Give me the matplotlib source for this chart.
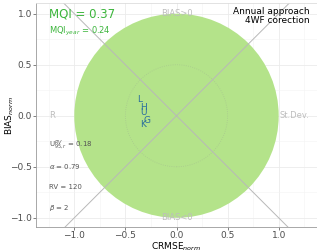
import numpy as np
import matplotlib.pyplot as plt
from matplotlib.patches import Circle

# station points (CRMSE_norm, BIAS_norm)
labels = ["L", "H", "U", "G", "K"]
crmse = [-0.36, -0.32, -0.32, -0.29, -0.33]
bias = [0.16, 0.08, 0.03, -0.05, -0.09]

mqi = 0.37
mqi_year = 0.24
u95 = 0.18
alpha = 0.79
rv = 120
beta = 2

fig = plt.figure(figsize=(3.17, 2.52), dpi=100)
ax = fig.add_axes([36 / 317, 25 / 252, 281 / 317, 224 / 252])

ax.set_xlim(-1.375, 1.375)
ax.set_ylim(-1.09, 1.105)

ax.set_xticks([-1.0, -0.5, 0.0, 0.5, 1.0])
ax.set_yticks([-1.0, -0.5, 0.0, 0.5, 1.0])
ax.set_xticks(np.arange(-1.25, 1.3, 0.5), minor=True)
ax.set_yticks(np.arange(-0.75, 1.0, 0.5), minor=True)
ax.set_axisbelow(True)
ax.grid(which="major", color="#EBEBEB", lw=0.6)
ax.grid(which="minor", color="#F3F3F3", lw=0.4)
ax.tick_params(which="major", labelsize=6.5, colors="#4D4D4D", length=2, width=0.5, pad=1)
ax.tick_params(which="minor", length=0)
ax.spines["right"].set_visible(False)
ax.spines["top"].set_color("#DDDDDD")
ax.spines["top"].set_linewidth(0.6)
for s in ["left", "bottom"]:
    ax.spines[s].set_color("#9A9A9A")
    ax.spines[s].set_linewidth(0.6)

ax.add_patch(Circle((0, 0), 1.0, color="#B4E38A", lw=0, zorder=1))
ax.add_patch(Circle((0, 0), 0.5, fill=False, ec="#A9C98E", lw=0.6, ls=":", zorder=2))

t = np.array([-2, 2])
ax.plot(t, t, color="#B8B8B8", lw=0.7, zorder=2)
ax.plot(t, -t, color="#B8B8B8", lw=0.7, zorder=2)

grey = "#BDBDBD"
ax.text(-1.22, 0, "R", color=grey, fontsize=6, ha="center", va="center", zorder=3)
ax.text(1.15, 0, "St.Dev.", color=grey, fontsize=6, ha="center", va="center", zorder=3)
ax.text(0, 1.0, "BIAS>0", color=grey, fontsize=6, ha="center", va="center", zorder=3)
ax.text(0, -1.0, "BIAS<0", color=grey, fontsize=6, ha="center", va="center", zorder=3)

ax.text(1.3, 1.07, "Annual approach\n4WF corection", color="black", fontsize=6.5,
        ha="right", va="top", linespacing=1.0, zorder=4)

green = "#3CB53C"
ax.text(-1.25, 1.0, f"MQI = {mqi:.2f}", color=green, fontsize=8.5, ha="left", va="center", zorder=4)
ax.text(-1.25, 0.83, r"MQI$_{year}$ = " + f"{mqi_year:.2f}", color=green, fontsize=6,
        ha="left", va="center", zorder=4)

dg = "#555555"
ax.text(-1.25, -0.295, r"U$^{RV}_{95,r}$ = " + f"{u95:.2f}", color=dg, fontsize=5, ha="left", va="center", zorder=4)
ax.text(-1.25, -0.5, r"$\alpha$ = " + f"{alpha:.2f}", color=dg, fontsize=5, ha="left", va="center", zorder=4)
ax.text(-1.25, -0.7, f"RV = {rv}", color=dg, fontsize=5, ha="left", va="center", zorder=4)
ax.text(-1.25, -0.9, r"$\beta$ = " + f"{beta}", color=dg, fontsize=5, ha="left", va="center", zorder=4)

for lab, x, y in zip(labels, crmse, bias):
    ax.text(x, y, lab, color="#2A6E9E", fontsize=6.5, ha="center", va="center", zorder=5)

ax.set_xlabel(r"CRMSE$_{norm}$", fontsize=6.5, labelpad=0)
ax.set_ylabel(r"BIAS$_{norm}$", fontsize=6.5)
ax.yaxis.set_label_coords(-0.072, 0.5)

fig.savefig("out.png", dpi=100)
